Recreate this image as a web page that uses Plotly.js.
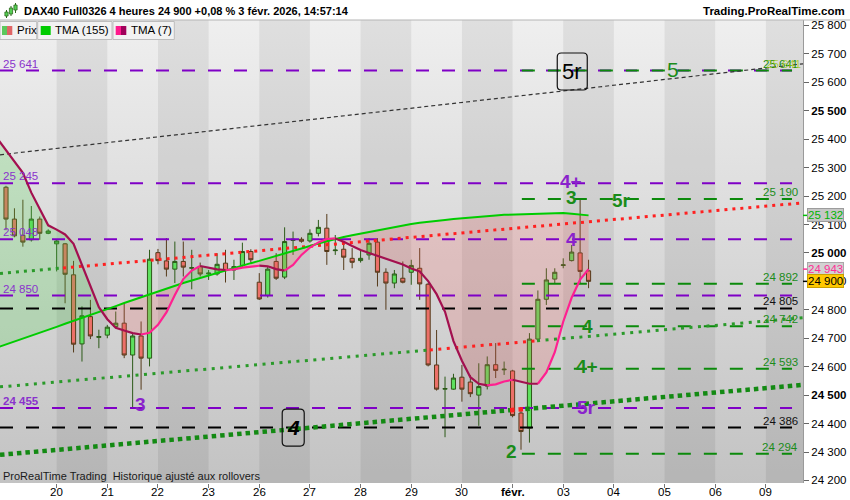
<!DOCTYPE html>
<html><head><meta charset="utf-8">
<script src="https://cdn.plot.ly/plotly-3.0.1.min.js"></script>
<style>
html,body{margin:0;padding:0;background:#fff;}
#wrap{position:relative;width:850px;height:500px;overflow:hidden;}
#bg{position:absolute;left:0;top:20px;width:803px;height:463px;background:linear-gradient(to bottom,#efefef 0%,#c3c3c3 100%);}
#chart{position:absolute;left:0;top:0;width:850px;height:500px;}
</style></head><body>
<div id="wrap"><div id="bg"></div><div id="chart"></div></div>
<script>
// ---------- data ----------
const dayLabels = ['20','21','22','23','26','27','28','29','30','févr.','03','04','05','06','09'];

const openP = [25231,25119,25062,25046,25119,25069,25032,25032,24923,24680,
  24776,24703,24711,24741,24753,24641,24708,24630,25001,24972,
  24943,24970,24946,24952,24926,24926,24964,24940,24956,25005,
  24897,24850,24970,24915,25044,25048,25042,25069,25087,25008,
  25013,24981,24973,24993,25038,24932,24894,24911,24932,24946,
  24890,24606,24521,24521,24563,24546,24500,24532,24607,24589,
  24585,24437,24384,24697,24837,24908,24956,24973,25000,24937];
const highP = [25236,25157,25187,25165,25128,25083,25046,25035,24972,24812,
  24835,24730,24747,24794,24823,24718,24759,25011,25014,25052,
  25040,25040,25011,24966,24940,24999,25011,24976,25036,25013,
  24929,24952,24999,25090,25075,25055,25083,25116,25137,25063,
  25034,25017,25011,25052,25052,24946,24940,24970,24976,25017,
  24894,24729,24565,24575,24606,24571,24612,24636,24683,24618,
  24589,24454,24718,24868,24946,24946,24981,25028,25187,24976];
const lowP = [25080,25055,25022,25040,25046,25066,24935,24823,24650,24618,
  24697,24665,24700,24735,24630,24454,24519,24601,24960,24917,
  24894,24917,24872,24917,24905,24920,24896,24905,24950,24965,
  24835,24843,24905,24908,24993,25036,25036,25058,24958,24993,
  24940,24946,24966,24976,24882,24800,24876,24893,24888,24835,
  24601,24516,24352,24519,24477,24493,24392,24520,24560,24571,
  24422,24308,24333,24695,24817,24894,24946,24970,24894,24876];
const closeP = [25119,25060,25038,25119,25069,25077,25042,24925,24679,24779,
  24708,24706,24739,24753,24641,24708,24630,24978,24973,24943,
  24970,24950,24948,24926,24929,24960,24938,24952,25005,24976,
  24838,24943,24911,25040,25048,25041,25069,25090,25005,25010,
  24985,24967,24981,25034,24932,24894,24926,24897,24956,24891,
  24606,24521,24523,24560,24521,24505,24530,24607,24587,24591,
  24428,24372,24697,24837,24905,24932,24958,25003,24935,24900];

// moving averages, first value belongs to the candle just left of the view
const tma155 = [24668,24678,24688,24699,24709,24720,24730,24740,24751,24761,24772,
  24782,24793,24803,24813,24824,24834,24845,24855,24866,24876,
  24886,24894,24903,24912,24920,24929,24938,24946,24955,24964,
  24972,24981,24990,24999,25007,25016,25025,25033,25041,25049,
  25056,25062,25068,25074,25080,25086,25092,25097,25102,25106,
  25110,25113,25116,25119,25122,25125,25127,25130,25132,25134,
  25135,25136,25137,25138,25139,25140,25140,25138,25135,25132];
const tma7 = [25401,25362,25324,25282,25212,25153,25097,25082,25065,25032,24957,
  24879,24809,24767,24737,24727,24718,24713,24719,24747,24791,
  24852,24908,24938,24954,24948,24942,24940,24942,24948,24952,
  24955,24953,24943,24938,24958,24993,25019,25037,25049,25051,
  25039,25024,25010,25000,24990,24980,24970,24959,24945,24935,
  24901,24855,24793,24690,24621,24563,24540,24534,24538,24548,
  24554,24547,24540,24540,24580,24651,24758,24843,24906,24943];

const purpleLevels = [25641, 25245, 25048, 24850, 24455];
const greenLevels  = [25641, 25190, 24892, 24742, 24593, 24294];
const blackLevels  = [24805, 24386];

const lastPrice = 24900, tma155Last = 25132, tma7Last = 24943;

// sloping lines (x in candle index, y in points)
const diagX = [-0.71, 94.4],               diagY = [25345, 25665];
const upperChX = [-0.71, 6.75, 94.4],      upperChY = [24928, 24947, 25176],      upperChC = ['g','r'];
const lowerChX = [-0.71, 50.2, 62.9, 94.4], lowerChY = [24529, 24659, 24691, 24772], lowerChC = ['g','r','g'];
const baseChX  = [-0.71, 59.7, 61.5, 94.4], baseChY  = [24290, 24447, 24451, 24536], baseChC  = ['g','r','g'];

const yTicks = [24200,24300,24400,24500,24600,24700,24800,24900,25000,25100,25200,25300,25400,25500,25600,25700,25800];

// ---------- helpers ----------
const FONT = 'Liberation Sans, Arial, sans-serif';
const X0 = -0.71, X1 = 94.4;
const fmt = v => String(v).replace(/(\d{2})(\d{3})$/, '$1 $2');
const px2paperX = p => p / 803;
const px2paperY = p => (483 - p) / 463;

const candleX = openP.map((_, i) => i);
const tmaX = tma7.map((_, k) => k - 1);
const dayX = dayLabels.map((_, k) => 6 + 6 * k);
const traces = [];

// fills between TMA(7) and TMA(155)
function buildFills(xs, a, b) {
  const polys = []; let top = [], bot = [], sign = null;
  const close = () => {
    if (top.length > 1) polys.push({sign,
      x: top.map(p => p[0]).concat(bot.map(p => p[0]).reverse()),
      y: top.map(p => p[1]).concat(bot.map(p => p[1]).reverse())});
  };
  for (let i = 0; i < xs.length; i++) {
    const d = a[i] - b[i]; const s = d >= 0 ? 1 : -1;
    if (sign === null) sign = s;
    else if (s !== sign) {
      const dp = a[i-1] - b[i-1]; const t = dp / (dp - d);
      const xc = xs[i-1] + t * (xs[i] - xs[i-1]);
      const yc = a[i-1] + t * (a[i] - a[i-1]);
      top.push([xc, yc]); bot.push([xc, yc]); close();
      top = [[xc, yc]]; bot = [[xc, yc]]; sign = s;
    }
    top.push([xs[i], a[i]]); bot.push([xs[i], b[i]]);
  }
  close(); return polys;
}
buildFills(tmaX, tma7, tma155).forEach(p => traces.push({
  type: 'scatter', mode: 'lines', x: p.x, y: p.y, fill: 'toself',
  fillcolor: p.sign > 0 ? 'rgba(70,215,70,0.22)' : 'rgba(245,90,90,0.20)',
  line: {width: 0}, hoverinfo: 'skip'
}));

// horizontal levels
const lvl = (x0, x1, v, color) => traces.push({type: 'scatter', mode: 'lines', x: [x0, x1], y: [v, v],
  line: {color, width: 2, dash: '13px,13px'}, hoverinfo: 'skip'});
purpleLevels.forEach(v => lvl(X0, 93.1, v, '#7f00c6'));
greenLevels.forEach(v => lvl(61.1, 93.1, v, '#0b8a0b'));
blackLevels.forEach(v => lvl(X0, 93.1, v, '#000000'));

// sloping lines
traces.push({type: 'scatter', mode: 'lines', x: diagX, y: diagY,
  line: {color: '#333', width: 1.2, dash: '4px,3px'}, hoverinfo: 'skip'});
function segLines(xs, ys, cs, width, dash, gcol, rcol) {
  for (let k = 0; k < cs.length; k++) traces.push({type: 'scatter', mode: 'lines',
    x: [xs[k], xs[k+1]], y: [ys[k], ys[k+1]],
    line: {color: cs[k] === 'g' ? gcol : rcol, width, dash}, hoverinfo: 'skip'});
}
segLines(upperChX, upperChY, upperChC, 3, '3px,5px', '#2a9a2a', '#ff2020');
segLines(lowerChX, lowerChY, lowerChC, 3, '3px,5.5px', '#2a9a2a', '#ff2020');
segLines(baseChX, baseChY, baseChC, 4.5, '4.5px,4px', '#138a13', '#ff2020');

// candles
traces.push({type: 'candlestick', x: candleX, open: openP, high: highP, low: lowP, close: closeP,
  increasing: {fillcolor: '#5ee05e', line: {color: '#2c5a18', width: 1}},
  decreasing: {fillcolor: '#ec7068', line: {color: '#553a1a', width: 1}},
  whiskerwidth: 0, hoverinfo: 'skip'});

// TMA(155)
traces.push({type: 'scatter', mode: 'lines', x: tmaX, y: tma155,
  line: {color: '#00cc00', width: 2}, hoverinfo: 'skip'});
// TMA(7) coloured by direction
(function () {
  let cur = null; const segs = [];
  for (let i = 1; i < tmaX.length; i++) {
    const c = tma7[i] > tma7[i-1] ? '#ff2090' : (tma7[i] < tma7[i-1] ? '#a3104f' : (cur ? cur.c : '#a3104f'));
    if (!cur || cur.c !== c) { cur = {c, x: [tmaX[i-1]], y: [tma7[i-1]]}; segs.push(cur); }
    cur.x.push(tmaX[i]); cur.y.push(tma7[i]);
  }
  segs.forEach(s => traces.push({type: 'scatter', mode: 'lines', x: s.x, y: s.y,
    line: {color: s.c, width: 2.2}, hoverinfo: 'skip'}));
})();

// ---------- shapes ----------
const shapes = [];
dayLabels.forEach((_, k) => {
  if (k % 2 === 0) shapes.push({type: 'rect', xref: 'x', yref: 'paper', layer: 'below',
    x0: dayX[k], x1: Math.min(dayX[k] + 6, X1), y0: 0, y1: 1,
    fillcolor: 'rgba(0,0,0,0.065)', line: {width: 0}});
});
// header separator
shapes.push({type: 'line', xref: 'paper', yref: 'paper', x0: 0, x1: 850 / 803, y0: 1, y1: 1,
  line: {color: '#b5b5b5', width: 1}});
// legend boxes
[[0, 36.7], [37.7, 112], [113, 174.3]].forEach(b => shapes.push({type: 'rect', xref: 'paper', yref: 'paper',
  x0: px2paperX(b[0]), x1: px2paperX(b[1]), y0: px2paperY(39.5), y1: px2paperY(21.5),
  fillcolor: '#f2f2f2', line: {color: '#bdbdbd', width: 1}}));
const sq = (a, b, col) => shapes.push({type: 'rect', xref: 'paper', yref: 'paper',
  x0: px2paperX(a), x1: px2paperX(b), y0: px2paperY(35), y1: px2paperY(26), fillcolor: col, line: {width: 0}});
sq(2, 7, '#5cc85c'); sq(7, 12.3, '#e06666');
sq(40.7, 50.7, '#00cc00');
sq(115.7, 121, '#ff1a8c'); sq(121, 126.3, '#a0005a');
// header candle icon
[[6.5, 10, 18, 12, 16], [11, 6, 16, 8, 14], [15.5, 3, 13, 5, 10]].forEach(c => {
  shapes.push({type: 'line', xref: 'paper', yref: 'paper', x0: px2paperX(c[0]), x1: px2paperX(c[0]),
    y0: px2paperY(c[2]), y1: px2paperY(c[1]), line: {color: '#2d6a1d', width: 1}});
  shapes.push({type: 'rect', xref: 'paper', yref: 'paper', x0: px2paperX(c[0] - 1.6), x1: px2paperX(c[0] + 1.6),
    y0: px2paperY(c[4]), y1: px2paperY(c[3]), fillcolor: '#55d055', line: {color: '#2d6a1d', width: 0.8}});
});
// rounded boxes around "5r" and "4"
const rbox = (xa, ya, w, h, r) => shapes.push({type: 'path', xref: 'x', yref: 'y',
  xsizemode: 'pixel', ysizemode: 'pixel', xanchor: xa, yanchor: ya,
  path: `M ${-w/2+r},${-h/2} L ${w/2-r},${-h/2} Q ${w/2},${-h/2} ${w/2},${-h/2+r} L ${w/2},${h/2-r} Q ${w/2},${h/2} ${w/2-r},${h/2} L ${-w/2+r},${h/2} Q ${-w/2},${h/2} ${-w/2},${h/2-r} L ${-w/2},${-h/2+r} Q ${-w/2},${-h/2} ${-w/2+r},${-h/2} Z`,
  line: {color: '#111', width: 1.2}, fillcolor: 'rgba(0,0,0,0)'});
rbox(67.07, 25638, 30, 37, 4);
rbox(34.02, 24386, 22, 37, 4);
// right-axis value ticks
[[tma155Last, '#00c000'], [tma7Last, '#ff2d95'], [lastPrice, '#000']].forEach(t => shapes.push({type: 'line',
  xref: 'paper', yref: 'y', x0: 1, x1: 1 + 5 / 803, y0: t[0], y1: t[0], line: {color: t[1], width: 1.5}}));

// ---------- annotations ----------
const ann = [];
const txt = (o) => ann.push(Object.assign({showarrow: false, font: {family: FONT, size: 11, color: '#000'}}, o));
txt({xref: 'paper', yref: 'paper', x: px2paperX(22), y: px2paperY(11), xanchor: 'left', yanchor: 'middle',
  text: '<b>DAX40 Full0326 4 heures 24 900 +0,08 % 3 févr. 2026, 14:57:14</b>', font: {family: FONT, size: 11, color: '#000'}});
txt({xref: 'paper', yref: 'paper', x: px2paperX(847), y: px2paperY(11), xanchor: 'right', yanchor: 'middle',
  text: '<b>Trading.ProRealTime.com</b>', font: {family: FONT, size: 11.5, color: '#000'}});
txt({xref: 'paper', yref: 'paper', x: px2paperX(14.5), y: px2paperY(30.5), xanchor: 'left', yanchor: 'middle', text: 'Prix', font: {family: FONT, size: 11.5, color: '#000'}});
txt({xref: 'paper', yref: 'paper', x: px2paperX(53), y: px2paperY(30.5), xanchor: 'left', yanchor: 'middle', text: 'TMA (155)', font: {family: FONT, size: 11.5, color: '#000'}});
txt({xref: 'paper', yref: 'paper', x: px2paperX(128.5), y: px2paperY(30.5), xanchor: 'left', yanchor: 'middle', text: 'TMA (7)', font: {family: FONT, size: 11.5, color: '#000'}});
txt({xref: 'paper', yref: 'paper', x: px2paperX(1), y: px2paperY(476), xanchor: 'left', yanchor: 'middle',
  text: 'ProRealTime Trading  Historique ajusté aux rollovers', font: {family: FONT, size: 11, color: '#1a1a1a'}});

// x-axis day labels
dayLabels.forEach((d, k) => txt({x: dayX[k], xref: 'x', yref: 'paper', y: px2paperY(492), xanchor: 'center', yanchor: 'middle',
  text: d === 'févr.' ? '<b>' + d + '</b>' : d, font: {family: FONT, size: 11.5, color: '#000'}}));

// level labels
purpleLevels.forEach(v => txt({x: X0, y: v, xanchor: 'left', yanchor: 'bottom', xshift: 1, yshift: -1,
  text: v === 24455 ? '<b>' + fmt(v) + '</b>' : fmt(v), font: {family: FONT, size: 11.5, color: '#8a33cc'}}));
greenLevels.forEach(v => txt({x: 94.0, y: v, xanchor: 'right', yanchor: 'bottom', yshift: -1,
  text: fmt(v), font: {family: FONT, size: 11.5, color: '#1a8c1a'}}));
txt({x: 94.0, y: greenLevels[0], xanchor: 'right', yanchor: 'bottom', yshift: -1, xshift: 3,
  text: fmt(greenLevels[0]), font: {family: FONT, size: 11.5, color: 'rgba(160,200,0,0.75)'}});
blackLevels.forEach(v => txt({x: 94.0, y: v, xanchor: 'right', yanchor: 'bottom', yshift: -1,
  text: fmt(v), font: {family: FONT, size: 11.5, color: '#111'}}));

// wave labels
const wave = (x, y, t, color, size) => txt({x, y, text: t, xanchor: 'center', yanchor: 'middle',
  font: {family: FONT, size, color}});
wave(67.07, 25638, '5r', '#000', 22);
wave(79.0, 25645, '5', '#1a8c1a', 21);
wave(66.9, 25250, '<b>4+</b>', '#8a22cc', 19);
wave(67.0, 25196, '<b>3</b>', '#1a8c1a', 19);
wave(72.9, 25186, '<b>5r</b>', '#1a8c1a', 19);
wave(67.0, 25046, '<b>4</b>', '#8a22cc', 19);
wave(68.9, 24743, '<b>4</b>', '#1a8c1a', 19);
wave(68.8, 24599, '<b>4+</b>', '#1a8c1a', 19);
wave(68.8, 24455, '<b>5r</b>', '#8a22cc', 19);
wave(59.9, 24301, '<b>2</b>', '#1a8c1a', 19);
wave(15.9, 24466, '<b>3</b>', '#8a22cc', 19);
wave(34.02, 24386, '<b><i>4</i></b>', '#000', 21);

// value boxes on the axis
const vbox = (v, color, bg, border) => txt({xref: 'paper', x: 1, xanchor: 'left', xshift: 4, y: v, yanchor: 'middle',
  text: fmt(v), bgcolor: bg, bordercolor: border, borderwidth: 1, borderpad: 0,
  font: {family: FONT, size: 11.5, color}});
vbox(tma155Last, '#00b400', '#c6c6c6', '#9c9c9c');
vbox(tma7Last, '#ff2d95', '#d2d2d2', '#a8a8a8');
vbox(lastPrice, '#000', '#ffc800', '#caa000');

// ---------- layout ----------
const tickText = yTicks.map(v => (v % 500 === 0) ? '<b>' + fmt(v) + '</b>' : fmt(v));
const layout = {
  width: 850, height: 500,
  margin: {l: 0, r: 47, t: 20, b: 17, pad: 0},
  paper_bgcolor: 'rgba(0,0,0,0)', plot_bgcolor: 'rgba(0,0,0,0)',
  showlegend: false, dragmode: false, hovermode: false,
  font: {family: FONT, size: 11, color: '#000'},
  xaxis: {range: [X0, X1], showgrid: false, zeroline: false, showline: false,
    rangeslider: {visible: false},
    tickmode: 'array', tickvals: dayX, showticklabels: false,
    ticks: 'outside', ticklen: 4, tickcolor: '#777',
    automargin: false, fixedrange: true},
  yaxis: {range: [24191, 25819], side: 'right', showgrid: false, zeroline: false,
    showline: true, linecolor: '#9a9a9a', linewidth: 1,
    tickmode: 'array', tickvals: yTicks, ticktext: tickText,
    ticks: 'outside', ticklen: 5, tickcolor: '#666', tickfont: {family: FONT, size: 11.5, color: '#000'},
    automargin: false, fixedrange: true},
  shapes, annotations: ann
};
Plotly.newPlot('chart', traces, layout, {staticPlot: true, displayModeBar: false});
</script>
</body></html>
